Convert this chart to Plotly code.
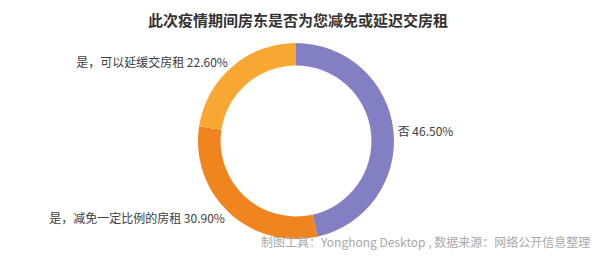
import plotly.graph_objects as go

categories = ["否", "是，减免一定比例的房租", "是，可以延缓交房租"]
values = [46.50, 30.90, 22.60]
colors = ["#8280C2", "#F0841F", "#F8A832"]
title_text = "此次疫情期间房东是否为您减免或延迟交房租"
footer_text = "制图工具：Yonghong Desktop , 数据来源：网络公开信息整理"

font_family = "Noto Sans CJK SC, Noto Sans, sans-serif"

fig = go.Figure(go.Pie(
    labels=categories,
    values=values,
    hole=0.77,
    sort=False,
    direction="clockwise",
    rotation=0,
    marker=dict(colors=colors, line=dict(width=0)),
    textposition="outside",
    texttemplate="%{label} %{value:.2f}%",
    textfont=dict(size=12, color="#404040", family=font_family),
    showlegend=False,
    hoverinfo="label+value",
    automargin=False,
))

fig.update_layout(
    width=596, height=257,
    margin=dict(l=0, r=4, t=43, b=18),
    paper_bgcolor="white",
    plot_bgcolor="white",
    font=dict(family=font_family),
    title=dict(
        text="<b>" + title_text + "</b>",
        x=0.5, xanchor="center",
        y=1 - 21 / 257, yanchor="middle",
        font=dict(size=15, color="#333333", family=font_family),
    ),
    annotations=[dict(
        text=footer_text,
        xref="paper", yref="paper",
        x=1.0, xanchor="right",
        y=-0.015, yanchor="middle",
        showarrow=False,
        font=dict(size=12, color="#A8A8A8", family=font_family),
    )],
)

fig.write_html("out.html")
